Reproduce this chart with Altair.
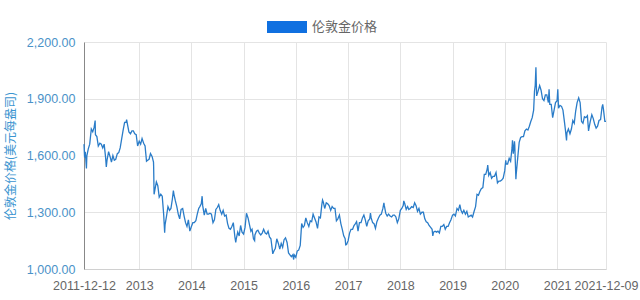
import altair as alt
import pandas as pd

SERIES = "伦敦金价格"
Y_TITLE = "伦敦金价格(美元每盎司)"

# Prices read on the 1st, 11th and 21st of each month
p2012 = [1598, 1635, 1660, 1740, 1725, 1750, 1710, 1700, 1650, 1665, 1660, 1640,
         1660, 1590, 1575, 1620, 1595, 1565, 1600, 1575, 1580, 1610, 1615, 1640,
         1690, 1735, 1775, 1775, 1765, 1725, 1715, 1730, 1730, 1715, 1710, 1650]
p2013 = [1675, 1660, 1690, 1665, 1650, 1570, 1575, 1580, 1610, 1595, 1565, 1420,
         1460, 1440, 1380, 1395, 1385, 1290, 1235, 1280, 1330, 1310, 1320, 1370,
         1395, 1360, 1330, 1290, 1265, 1315, 1320, 1280, 1245, 1225, 1260, 1200]
p2014 = [1225, 1245, 1245, 1255, 1290, 1320, 1330, 1345, 1335, 1285, 1320, 1290,
         1290, 1295, 1290, 1245, 1260, 1315, 1325, 1340, 1310, 1290, 1310, 1280,
         1285, 1240, 1215, 1210, 1225, 1245, 1170, 1160, 1195, 1175, 1230, 1195]
p2015 = [1185, 1220, 1295, 1270, 1235, 1200, 1210, 1160, 1180, 1200, 1205, 1190,
         1180, 1190, 1210, 1190, 1185, 1200, 1170, 1160, 1100, 1095, 1110, 1160,
         1135, 1105, 1135, 1115, 1155, 1165, 1140, 1085, 1075, 1065, 1075, 1075]
p2016 = [1062, 1095, 1100, 1125, 1240, 1220, 1230, 1270, 1245, 1225, 1255, 1250,
         1290, 1270, 1250, 1215, 1275, 1270, 1340, 1355, 1320, 1350, 1345, 1335,
         1310, 1330, 1320, 1320, 1255, 1265, 1285, 1240, 1210, 1175, 1160, 1130]
p2017 = [1150, 1190, 1210, 1210, 1230, 1240, 1250, 1200, 1245, 1245, 1270, 1285,
         1260, 1225, 1255, 1265, 1270, 1245, 1240, 1215, 1250, 1270, 1285, 1290,
         1320, 1335, 1295, 1280, 1290, 1280, 1275, 1285, 1285, 1275, 1245, 1265]
p2018 = [1310, 1320, 1335, 1345, 1315, 1330, 1315, 1320, 1330, 1325, 1350, 1335,
         1305, 1320, 1290, 1300, 1300, 1265, 1250, 1245, 1230, 1220, 1210, 1195,
         1200, 1195, 1200, 1190, 1225, 1225, 1235, 1210, 1225, 1225, 1245, 1260]
p2019 = [1285, 1290, 1280, 1320, 1310, 1340, 1310, 1295, 1310, 1290, 1305, 1275,
         1280, 1285, 1275, 1305, 1330, 1395, 1390, 1410, 1425, 1430, 1500, 1500,
         1530, 1495, 1510, 1480, 1490, 1490, 1510, 1455, 1465, 1465, 1470, 1480]
p2020 = [1520, 1555, 1555, 1585, 1570, 1640, 1610, 1655, 1500, 1590, 1670, 1695,
         1700, 1700, 1730, 1740, 1735, 1755, 1780, 1800, 1840, 1970, 1915, 1940,
         1970, 1945, 1900, 1890, 1920, 1920, 1880, 1870, 1870, 1800, 1840, 1880]
p2021 = [1890, 1850, 1865, 1860, 1840, 1780, 1730, 1720, 1740, 1715, 1740, 1785,
         1770, 1835, 1880, 1905, 1880, 1780, 1770, 1805, 1800, 1810, 1740, 1780,
         1815, 1795, 1765, 1745, 1755, 1785, 1790, 1855, 1845, 1780]

# Extra readings at turning points
extra_dates = ["2011-12-12", "2011-12-16", "2011-12-21", "2011-12-29",
               "2012-02-28", "2012-05-16", "2012-10-05",
               "2013-04-12", "2013-04-15", "2013-06-28", "2013-08-28",
               "2014-03-17", "2014-11-07",
               "2015-03-19", "2015-07-24", "2015-12-17",
               "2016-07-06", "2016-12-15",
               "2017-06-06", "2017-09-08",
               "2018-01-25", "2018-08-16",
               "2019-09-04",
               "2020-01-08", "2020-02-24", "2020-03-09", "2020-03-19",
               "2020-07-27", "2020-08-06", "2020-11-06",
               "2021-01-06", "2021-03-08", "2021-08-09", "2021-11-16", "2021-12-09"]
extra_prices = [1660, 1590, 1620, 1531,
                1785, 1540, 1790,
                1540, 1395, 1192, 1415,
                1385, 1140,
                1150, 1080, 1050,
                1365, 1128,
                1295, 1350,
                1360, 1175,
                1550,
                1575, 1680, 1675, 1475,
                1940, 2067, 1950,
                1950, 1680, 1730, 1870, 1780]

y_ticks = [1000, 1300, 1600, 1900, 2200]

yearly = {2012: p2012, 2013: p2013, 2014: p2014, 2015: p2015, 2016: p2016,
          2017: p2017, 2018: p2018, 2019: p2019, 2020: p2020, 2021: p2021}
days = [1, 11, 21]
rows = []
for yr, vals in yearly.items():
    for i, v in enumerate(vals):
        rows.append((pd.Timestamp(yr, i // 3 + 1, days[i % 3]), v))
for d, v in zip(extra_dates, extra_prices):
    rows.append((pd.Timestamp(d), v))
df = pd.DataFrame(rows, columns=["date", "price"]).sort_values("date").drop_duplicates("date")
df["series"] = SERIES

start = alt.DateTime(year=2011, month=12, date=12)
end = alt.DateTime(year=2021, month=12, date=9)
x_ticks = [start] + [alt.DateTime(year=y, month=1, date=1) for y in range(2013, 2022)] + [end]

label_expr = ("timeFormat(datum.value, '%m-%d') == '01-01' ? timeFormat(datum.value, '%Y') "
              ": timeFormat(datum.value, '%Y-%m-%d')")

chart = alt.Chart(df).mark_line(strokeWidth=1.3).encode(
    x=alt.X("date:T",
            scale=alt.Scale(domain=[start, end], nice=False),
            axis=alt.Axis(values=x_ticks, labelExpr=label_expr, title=None,
                          grid=True, gridColor="#e4e4e4", ticks=False,
                          labelPadding=10, labelColor="#666666", labelFontSize=12.5,
                          labelFont="Liberation Sans", labelOverlap=False, labelFlush=False,
                          domainColor="#d0d0d0")),
    y=alt.Y("price:Q",
            scale=alt.Scale(domain=[1000, 2200], nice=False, zero=False),
            axis=alt.Axis(values=y_ticks, format=",.2f", title=Y_TITLE,
                          grid=True, gridColor="#e4e4e4", ticks=False,
                          labelPadding=9, labelColor="#4a92c8", labelFontSize=12.5,
                          labelFont="Liberation Sans",
                          titleColor="#3a94d0", titleFontSize=12, titleFontWeight="normal",
                          titleFont="Noto Sans CJK SC", titlePadding=9,
                          domainColor="#888888")),
    color=alt.Color("series:N",
                    scale=alt.Scale(range=["#2a7cc8"]),
                    legend=alt.Legend(title=None, orient="none", legendX=183, legendY=-35,
                                      symbolType="M-1,-0.3L1,-0.3L1,0.3L-1,0.3Z",
                                      symbolSize=1600, symbolFillColor="#1070e0",
                                      symbolStrokeWidth=0, padding=0,
                                      labelFont="Noto Sans CJK SC", labelFontSize=13,
                                      labelColor="#666666", labelOffset=5))
).properties(
    width=522, height=227,
    autosize=alt.AutoSizeParams(type="none"),
    padding={"left": 84, "top": 42, "right": 34, "bottom": 31}
).configure_view(stroke=None)

chart.save("out.html", embed_options={"renderer": "svg", "actions": False})
